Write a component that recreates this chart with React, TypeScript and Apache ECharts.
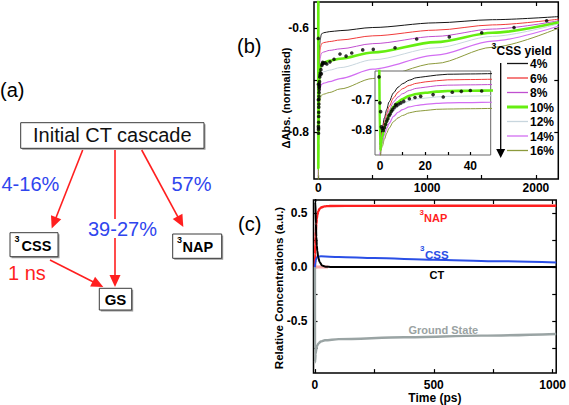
import React, { useEffect, useRef } from 'react';
import * as echarts from 'echarts';

// ---------------- Panel (b): simulated transients for each 3CSS yield ----------------
const yieldLabels = ['4%', '6%', '8%', '10%', '12%', '14%', '16%'];
const fitTimes = [0, 1, 2, 3, 4, 6, 8, 10, 13, 16, 20, 25, 30, 40, 50, 100, 200, 500, 1080, 1600, 2210];
const fit4 = [-0.850, -0.795, -0.758, -0.730, -0.705, -0.674, -0.655, -0.643, -0.631, -0.623, -0.619, -0.614, -0.611, -0.610, -0.609, -0.607, -0.605, -0.599, -0.590, -0.584, -0.578];
const fit6 = [-0.860, -0.807, -0.772, -0.744, -0.721, -0.691, -0.672, -0.660, -0.649, -0.642, -0.637, -0.633, -0.630, -0.629, -0.628, -0.626, -0.623, -0.615, -0.604, -0.594, -0.583];
const fit8 = [-0.865, -0.815, -0.782, -0.755, -0.734, -0.705, -0.688, -0.677, -0.666, -0.659, -0.655, -0.650, -0.648, -0.647, -0.646, -0.643, -0.640, -0.630, -0.616, -0.602, -0.586];
const fit10 = [-0.870, -0.823, -0.792, -0.768, -0.748, -0.721, -0.705, -0.695, -0.684, -0.678, -0.674, -0.670, -0.668, -0.667, -0.666, -0.663, -0.659, -0.647, -0.627, -0.609, -0.589];
const fit12 = [-0.875, -0.831, -0.802, -0.779, -0.760, -0.736, -0.720, -0.711, -0.701, -0.695, -0.692, -0.688, -0.686, -0.685, -0.684, -0.681, -0.676, -0.661, -0.638, -0.616, -0.592];
const fit14 = [-0.885, -0.844, -0.817, -0.795, -0.778, -0.754, -0.740, -0.731, -0.722, -0.717, -0.713, -0.710, -0.708, -0.707, -0.706, -0.703, -0.697, -0.679, -0.652, -0.625, -0.596];
const fit16 = [-0.895, -0.856, -0.831, -0.811, -0.794, -0.772, -0.759, -0.751, -0.742, -0.737, -0.734, -0.730, -0.729, -0.728, -0.727, -0.724, -0.717, -0.697, -0.668, -0.637, -0.600];
const fitValues = [fit4, fit6, fit8, fit10, fit12, fit14, fit16];
// the 10% fit's instrument-response spike just before t = 0
const greenLeadIn = [[-0.4, -0.45]];

// measured transient (black dots)
const dataPoints = [
  [-0.4, -0.620], [0.0, -0.708], [0.3, -0.738], [0.6, -0.789], [1.0, -0.795], [1.5, -0.802],
  [2.0, -0.792], [2.5, -0.781], [3.0, -0.770], [3.5, -0.762], [4.0, -0.752], [4.5, -0.746],
  [5.0, -0.737], [5.6, -0.731], [6.3, -0.724], [6.9, -0.714], [7.4, -0.718], [8.3, -0.712],
  [9.3, -0.708], [10.5, -0.703], [13.0, -0.694], [15.5, -0.690], [18.0, -0.686], [23.5, -0.680],
  [28.0, -0.688], [32.0, -0.672], [36.0, -0.669], [40.0, -0.666], [45.0, -0.668],
  [62, -0.667], [78, -0.669], [107, -0.665], [144, -0.660], [199, -0.650], [255, -0.654],
  [307, -0.648], [408, -0.642], [505, -0.641], [705, -0.638], [904, -0.621], [1204, -0.617],
  [1502, -0.609], [1799, -0.599], [2099, -0.586],
];

// ---------------- Panel (c): relative concentrations ----------------
const napConc = [[0, 0], [1, 0.12], [2, 0.21], [3, 0.28], [4, 0.33], [6, 0.40], [8, 0.45], [10, 0.48], [14, 0.515], [20, 0.54], [28, 0.553], [40, 0.561], [60, 0.565], [200, 0.566], [1015, 0.567]];
const cssConc = [[0, 0], [2, 0.04], [4, 0.065], [6, 0.08], [10, 0.093], [15, 0.098], [25, 0.099], [100, 0.094], [250, 0.083], [500, 0.068], [750, 0.055], [1015, 0.043]];
const ctConc = [[0, 1], [2, 0.6], [4, 0.4], [6, 0.28], [8, 0.2], [10, 0.15], [14, 0.09], [20, 0.045], [30, 0.015], [45, 0.004], [70, 0], [1015, 0]];
const gsConc = [[0, 0], [0.5, -0.88], [3, -0.80], [6, -0.755], [10, -0.725], [15, -0.705], [25, -0.688], [42, -0.677], [100, -0.666], [375, -0.649], [700, -0.634], [1015, -0.618]];
const hotCT = [[0, 0], [55, 0]];

// ---------------- ticks ----------------
const bXTicks = [0, 500, 1000, 1500, 2000];
const bXLabels = [0, 1000, 2000];
const bYTicks = [-0.8, -0.7, -0.6];
const bYLabels = [-0.8, -0.6];
const insetXTicks = [0, 10, 20, 30, 40];
const insetXLabels = [0, 20, 40];
const insetYTicks = [-0.8, -0.7];
const insetYLabels = [-0.8, -0.7];
const cXTicks = [0, 250, 500, 750, 1000];
const cXLabels = [0, 500, 1000];
const cYTicks = [-0.75, -0.5, -0.25, 0, 0.25, 0.5];
const cYLabels = [-0.5, 0, 0.5];

// ---------------- styles ----------------
const FONT = '"Liberation Sans", Arial, Helvetica, sans-serif';
const yieldColors = ['#151515', '#f03a3a', '#c04fd0', '#66ee11', '#c8d6de', '#d26ef2', '#8c9a3c'];
const yieldWidths = [1, 1, 1, 2.6, 1, 1.2, 1];
const RED = '#ff1f1f';
const BLUE = '#2f45ee';

function axis(gridIndex: number, min: number, max: number, ticks: number[], labels: number[] | null, position: string, opts: any = {}) {
  return {
    type: 'value', gridIndex, min, max, position, offset: 0,
    axisLine: { show: false, onZero: false },
    splitLine: { show: false },
    axisTick: { show: true, inside: true, length: opts.tickLen ?? 4, customValues: ticks, lineStyle: { color: '#000', width: 1.2 } },
    axisLabel: labels ? {
      show: true, inside: false, hideOverlap: false, customValues: labels, margin: opts.margin ?? 4, fontSize: opts.fontSize ?? 12,
      fontWeight: 'bold', color: '#000', fontFamily: FONT,
      formatter: opts.fmt ?? ((v: number) => String(v)),
    } : { show: false },
    z: opts.z ?? 0,
    ...(opts.extra || {}),
  };
}
const fmt1 = (v: number) => v.toFixed(1);

function txt(text: string, x: number, y: number, size: number, fill: string, o: any = {}) {
  const align = o.align ?? 'left';
  return {
    type: 'text', z: o.z ?? 20, rotation: o.rotation ?? 0, x, y,
    style: {
      text, x: 0, y: 0, fill,
      font: `${o.weight ?? 'normal'} ${size}px ${FONT}`,
      align, textAlign: align, verticalAlign: 'middle', textVerticalAlign: 'middle',
    },
  };
}

function arrow(x1: number, y1: number, x2: number, y2: number, color: string, head = 12, hw = 5.5, w = 1.6) {
  const dx = x2 - x1, dy = y2 - y1;
  const L = Math.hypot(dx, dy);
  const ux = dx / L, uy = dy / L;
  const bx = x2 - ux * head, by = y2 - uy * head;
  const nx = -uy, ny = ux;
  return [
    { type: 'line', z: 20, shape: { x1, y1, x2: bx + ux * 2, y2: by + uy * 2 }, style: { stroke: color, lineWidth: w } },
    { type: 'polygon', z: 20, shape: { points: [[x2, y2], [bx + nx * hw, by + ny * hw], [bx - nx * hw, by - ny * hw]] }, style: { fill: color } },
  ];
}

function box(x: number, y: number, w: number, h: number) {
  return [
    { type: 'rect', z: 18, shape: { x: x + 1.5, y: y + 1.5, width: w, height: h }, style: { fill: '#9a9a9a' } },
    { type: 'rect', z: 19, shape: { x, y, width: w, height: h }, style: { fill: '#ffffff', stroke: '#3a3a3a', lineWidth: 1 } },
  ];
}

function buildGraphic(): any[] {
  const legendRows: any[] = [];
  yieldLabels.forEach((lab, i) => {
    const y = 63.5 + i * 14.5;
    legendRows.push({ type: 'line', z: 20, shape: { x1: 507, y1: y, x2: 528, y2: y }, style: { stroke: yieldColors[i], lineWidth: i === 3 ? 3 : 1.3 } });
    legendRows.push(txt(lab, 530, y + 0.5, 12, '#000', { weight: 'bold' }));
  });
  return [
    // panel labels
    txt('(a)', 0, 90, 20, '#000'),
    txt('(b)', 237, 45.5, 20, '#000'),
    txt('(c)', 238, 224, 20, '#000'),
    // axis titles
    txt('ΔAbs. (normalised)', 286, 98, 11, '#000', { weight: 'bold', align: 'center', rotation: Math.PI / 2 }),
    txt('Relative Concentrations (a.u.)', 279, 288, 11.5, '#000', { weight: 'bold', align: 'center', rotation: Math.PI / 2 }),
    // legend (b)
    txt('3', 491.5, 46, 8.5, '#000', { weight: 'bold' }),
    txt('CSS yield', 496.5, 51, 12, '#000', { weight: 'bold' }),
    ...legendRows,
    { type: 'line', z: 20, shape: { x1: 500.7, y1: 63, x2: 500.7, y2: 150 }, style: { stroke: '#000', lineWidth: 1.3 } },
    { type: 'polygon', z: 20, shape: { points: [[496.2, 149], [505.2, 149], [500.7, 158]] }, style: { fill: '#000' } },
    // labels (c)
    txt('3', 419.5, 212.5, 8, RED, { weight: 'bold' }),
    txt('NAP', 424, 218, 11, RED, { weight: 'bold' }),
    txt('3', 420, 248.5, 8, '#2a4fe6', { weight: 'bold' }),
    txt('CSS', 425, 254.5, 11.5, '#2a4fe6', { weight: 'bold' }),
    txt('CT', 429.5, 274.5, 11, '#000', { weight: 'bold' }),
    txt('Ground State', 408.5, 330, 11, '#9aa2a2', { weight: 'bold' }),
    // panel (a) diagram
    ...box(20.7, 122.7, 183.3, 25.6),
    txt('Initial CT cascade', 112.3, 134.5, 20, '#111', { align: 'center' }),
    ...box(10, 232.7, 48, 24),
    txt('3', 14.5, 239, 9, '#000', { weight: 'bold' }),
    txt('CSS', 21.5, 246, 14.5, '#000', { weight: 'bold' }),
    ...box(172.7, 234, 49, 24.3),
    txt('3', 177, 240, 9, '#000', { weight: 'bold' }),
    txt('NAP', 182.5, 247, 14.5, '#000', { weight: 'bold' }),
    ...box(99.3, 288.3, 32.4, 21.7),
    txt('GS', 115.5, 299.5, 15, '#000', { weight: 'bold', align: 'center' }),
    ...arrow(82.7, 150, 51.7, 228.5, RED),
    { type: 'line', z: 20, shape: { x1: 115, y1: 150, x2: 115, y2: 219 }, style: { stroke: RED, lineWidth: 1.6 } },
    ...arrow(115, 238, 115, 287, RED),
    ...arrow(141.7, 150, 183.3, 227, RED),
    ...arrow(50, 260, 103.3, 287, RED),
    txt('4-16%', 1.5, 184, 20, BLUE),
    txt('57%', 171.5, 184, 20, BLUE),
    txt('39-27%', 88, 228.5, 20, BLUE),
    txt('1 ns', 8, 273, 20, RED),
  ];
}

function buildOption() {
  const series: any[] = [];
  fitValues.forEach((vals, i) => {
    const d = fitTimes.map((t, k) => [t, vals[k]]);
    const data = i === 3 ? [...greenLeadIn, ...d] : d;
    const base = {
      type: 'line', data, symbol: 'none', showSymbol: false, smooth: 0.3, smoothMonotone: 'x',
      lineStyle: { color: yieldColors[i], width: yieldWidths[i] }, silent: true, name: yieldLabels[i],
    };
    series.push({ ...base, xAxisIndex: 0, yAxisIndex: 0, z: i === 3 ? 4 : 3 });
    series.push({ ...base, xAxisIndex: 2, yAxisIndex: 2, z: i === 3 ? 13 : 12 });
  });
  series.push({ type: 'scatter', xAxisIndex: 0, yAxisIndex: 0, data: dataPoints, symbolSize: 3.6, itemStyle: { color: '#000' }, z: 5, silent: true });
  series.push({ type: 'scatter', xAxisIndex: 2, yAxisIndex: 2, data: dataPoints, symbolSize: 3.6, itemStyle: { color: '#000' }, z: 14, silent: true });

  const cLine = (data: number[][], color: string, width: number, z: number) => ({
    type: 'line', xAxisIndex: 3, yAxisIndex: 3, data, symbol: 'none', showSymbol: false,
    smooth: 0.3, smoothMonotone: 'x', lineStyle: { color, width }, z, silent: true,
  });
  series.push(cLine(hotCT, '#f7a8a8', 3, 2));
  series.push(cLine(gsConc, '#9aa4a4', 2.4, 3));
  series.push(cLine(napConc, RED, 2.4, 4));
  series.push(cLine(cssConc, '#2a4fe6', 2, 5));
  series.push(cLine(ctConc, '#000000', 2, 6));

  const gridCommon = { show: true, containLabel: false };
  return {
    animation: false,
    backgroundColor: '#ffffff',
    textStyle: { fontFamily: FONT },
    grid: [
      { ...gridCommon, left: 314, top: 2, width: 244.3, height: 177, borderColor: '#000', borderWidth: 1.5, backgroundColor: 'transparent', z: 0 },
      { ...gridCommon, left: 375, top: 71, width: 115.7, height: 84, borderColor: '#666', borderWidth: 1, backgroundColor: '#ffffff', z: 10 },
      { ...gridCommon, left: 313.5, top: 200, width: 244.5, height: 174, borderColor: '#000', borderWidth: 1.5, backgroundColor: 'transparent', z: 0 },
    ],
    xAxis: [
      axis(0, -40, 2206, bXTicks, bXLabels, 'bottom', { margin: 3 }),
      axis(0, -40, 2206, bXTicks, null, 'top'),
      axis(1, -2.2, 49, insetXTicks, insetXLabels, 'bottom', { margin: 5, z: 11, tickLen: 3 }),
      axis(2, -6, 1015, cXTicks, cXLabels, 'bottom', {
        margin: 6,
        extra: { name: 'Time (ps)', nameLocation: 'middle', nameGap: 17, nameTextStyle: { fontWeight: 'bold', fontSize: 12, color: '#000', fontFamily: FONT } },
      }),
      axis(2, -6, 1015, cXTicks, null, 'top'),
    ],
    yAxis: [
      axis(0, -0.89, -0.55, bYTicks, bYLabels, 'left', { margin: 5, fmt: fmt1 }),
      axis(0, -0.89, -0.55, bYTicks, null, 'right'),
      axis(1, -0.885, -0.6, insetYTicks, insetYLabels, 'left', { margin: 3, fmt: fmt1, z: 11, tickLen: 3 }),
      axis(2, -0.98, 0.62, cYTicks, cYLabels, 'left', { margin: 6, fmt: fmt1 }),
      axis(2, -0.98, 0.62, cYTicks, null, 'right'),
    ],
    series,
    graphic: { elements: buildGraphic() },
  };
}

export default function App() {
  const ref = useRef<HTMLDivElement>(null);
  useEffect(() => {
    document.body.style.margin = '0';
    const chart = echarts.init(ref.current!, undefined, { renderer: 'svg' });
    chart.setOption(buildOption() as any);
    return () => chart.dispose();
  }, []);
  return <div ref={ref} style={{ width: 569, height: 405 }} />;
}
